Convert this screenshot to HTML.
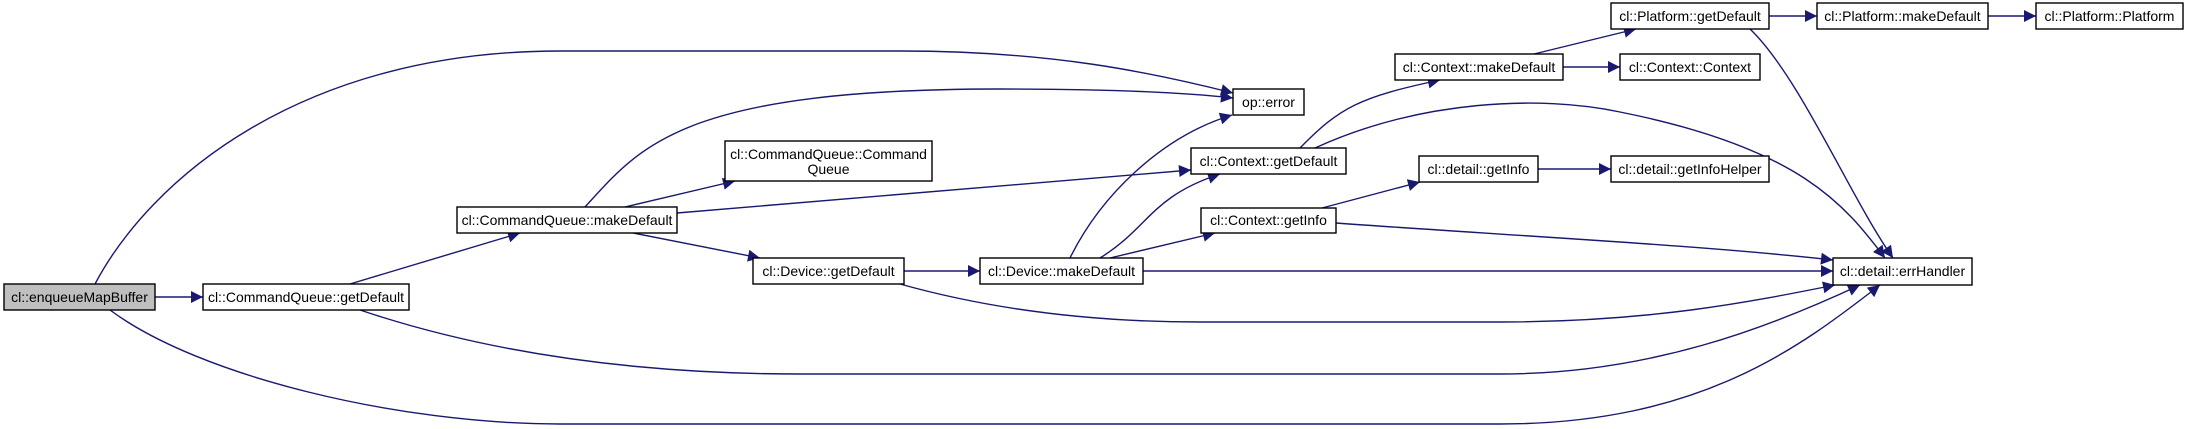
<!DOCTYPE html>
<html><head><meta charset="utf-8"><style>
html,body{margin:0;padding:0;background:#fff;}
svg{display:block;}
text{font-family:"Liberation Sans",sans-serif;font-size:14px;fill:#000;}
</style></head><body>
<svg width="2185" height="429" viewBox="0 0 2185 429" xmlns="http://www.w3.org/2000/svg">
<defs>
<marker id="a" viewBox="0 0 10 10" refX="10" refY="5" markerWidth="14" markerHeight="12" markerUnits="userSpaceOnUse" orient="auto">
<path d="M0,0 L10,5 L0,10 z" fill="#191970"/>
</marker>
</defs>
<g fill="none" stroke="#191970" stroke-width="1.4" marker-end="url(#a)">
<path d="M155,297 L203,297"/>
<path d="M95,284 C150,180 300,51 560,51 L900,51 C1050,51 1150,72 1233,93"/>
<path d="M110,310 C200,377 400,424 560,424 L1500,424 C1700,424 1800,347 1880,285"/>
<path d="M350,284 L520,233"/>
<path d="M360,310 C500,357 650,374 800,374 L1500,374 C1650,374 1770,327 1860,285"/>
<path d="M585,207 C640,147 680,89 1000,89 C1100,89 1180,92 1233,98"/>
<path d="M625,207 L735,181"/>
<path d="M677,213 L1191,170"/>
<path d="M633,233 L760,258"/>
<path d="M904,271 L980,271"/>
<path d="M900,284 C1000,312 1100,322 1200,322 L1500,322 C1650,322 1750,302 1835,285"/>
<path d="M1070,258 C1100,197 1160,137 1232,115"/>
<path d="M1100,258 C1150,227 1150,197 1220,174"/>
<path d="M1110,258 L1215,233"/>
<path d="M1143,271 L1833,271"/>
<path d="M1300,148 C1340,107 1360,97 1440,80"/>
<path d="M1315,148 C1420,100 1540,95 1620,112 C1800,148 1845,205 1885,258"/>
<path d="M1322,208 L1420,182"/>
<path d="M1336,223 C1500,235 1700,245 1833,260"/>
<path d="M1538,169 L1611,169"/>
<path d="M1534,54 L1636,29"/>
<path d="M1563,67 L1620,67"/>
<path d="M1769,16 L1817,16"/>
<path d="M1988,16 L2036,16"/>
<path d="M1750,29 C1800,77 1850,197 1893,258"/>
</g>
<g stroke="#000" stroke-width="1.4" fill="#fff">
<rect x="4" y="284" width="151" height="26" fill="#bfbfbf"/>
<rect x="203" y="284" width="206" height="26"/>
<rect x="457" y="207" width="220" height="26"/>
<rect x="725" y="141" width="207" height="40"/>
<rect x="753" y="258" width="151" height="26"/>
<rect x="980" y="258" width="163" height="26"/>
<rect x="1233" y="89" width="71" height="26"/>
<rect x="1191" y="148" width="155" height="26"/>
<rect x="1201" y="208" width="135" height="25"/>
<rect x="1395" y="54" width="168" height="26"/>
<rect x="1620" y="54" width="140" height="26"/>
<rect x="1419" y="156" width="119" height="26"/>
<rect x="1611" y="156" width="158" height="26"/>
<rect x="1611" y="3" width="158" height="26"/>
<rect x="1817" y="3" width="171" height="26"/>
<rect x="2036" y="3" width="147" height="26"/>
<rect x="1833" y="258" width="139" height="27"/>
</g>
<g text-anchor="middle">
<text x="79.5" y="302">cl::enqueueMapBuffer</text>
<text x="306" y="302">cl::CommandQueue::getDefault</text>
<text x="567" y="225">cl::CommandQueue::makeDefault</text>
<text x="828.5" y="159">cl::CommandQueue::Command</text>
<text x="828.5" y="174">Queue</text>
<text x="828.5" y="276">cl::Device::getDefault</text>
<text x="1061.5" y="276">cl::Device::makeDefault</text>
<text x="1268.5" y="107">op::error</text>
<text x="1268.5" y="166">cl::Context::getDefault</text>
<text x="1268.5" y="225">cl::Context::getInfo</text>
<text x="1479" y="72">cl::Context::makeDefault</text>
<text x="1690" y="72">cl::Context::Context</text>
<text x="1478.5" y="174">cl::detail::getInfo</text>
<text x="1690" y="174">cl::detail::getInfoHelper</text>
<text x="1690" y="21">cl::Platform::getDefault</text>
<text x="1902.5" y="21">cl::Platform::makeDefault</text>
<text x="2109.5" y="21">cl::Platform::Platform</text>
<text x="1902.5" y="276">cl::detail::errHandler</text>
</g>
</svg>
</body></html>
